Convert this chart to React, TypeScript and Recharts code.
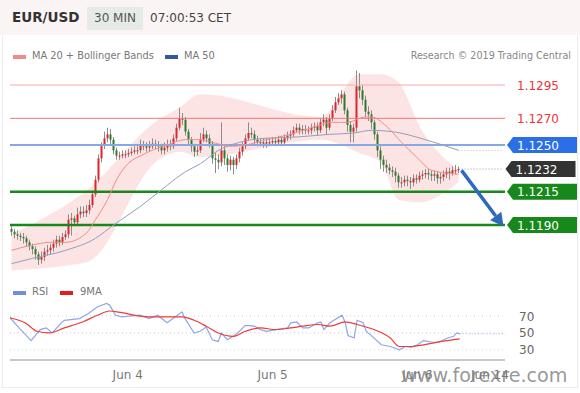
import { ComposedChart, Bar, Line, Area, XAxis, YAxis, ReferenceLine } from "recharts";

// EUR/USD 30 min candles, Jun 3 04:30 -> Jun 6 07:00
const firstOpen = 1.1187;
const closes = [
  1.1185, 1.1183, 1.1182, 1.1181, 1.118, 1.1177, 1.1174, 1.1172, 1.1168, 1.1164,
  1.1166, 1.117, 1.1171, 1.1173, 1.1176, 1.1179, 1.1177, 1.1181, 1.1183, 1.1194,
  1.1195, 1.1192, 1.1198, 1.12, 1.1199, 1.1201, 1.1205, 1.1213, 1.1224, 1.124,
  1.125, 1.1255, 1.1258, 1.1254, 1.1246, 1.1242, 1.1242, 1.1243, 1.1243, 1.1244,
  1.1245, 1.1246, 1.1246, 1.125, 1.1249, 1.1248, 1.1249, 1.1251, 1.125, 1.1249,
  1.1246, 1.1248, 1.125, 1.1249, 1.1255, 1.1263, 1.127, 1.1269, 1.126, 1.1254,
  1.1249, 1.1245, 1.1246, 1.1254, 1.1258, 1.1255, 1.1251, 1.124, 1.1239, 1.1237,
  1.1246, 1.124, 1.1235, 1.1239, 1.1235, 1.124, 1.1245, 1.1249, 1.1255, 1.1259,
  1.1258, 1.1254, 1.1252, 1.1252, 1.1251, 1.1252, 1.1252, 1.1253, 1.1252, 1.1254,
  1.1252, 1.1255, 1.1257, 1.1258, 1.1261, 1.1263, 1.1261, 1.1262, 1.1261, 1.1261,
  1.1263, 1.1264, 1.1261, 1.1267, 1.1269, 1.1263, 1.127, 1.1276, 1.1282, 1.1285,
  1.1288, 1.1276, 1.1265, 1.126, 1.1263, 1.1294, 1.1291, 1.1284, 1.1275, 1.1273,
  1.1267, 1.1258, 1.1246, 1.1239, 1.1235, 1.1233, 1.1231, 1.123, 1.1227, 1.1222,
  1.1222, 1.1224, 1.1223, 1.1222, 1.1225, 1.1224, 1.1227, 1.1228, 1.1229, 1.1228,
  1.1227, 1.1228, 1.1225, 1.1226, 1.1228, 1.123, 1.1229, 1.1231, 1.1231, 1.1232,
];
const highs = [
  1.1189, 1.1187, 1.1186, 1.1184, 1.1184, 1.1182, 1.1179, 1.1176, 1.1174, 1.117,
  1.117, 1.1173, 1.1175, 1.1176, 1.1179, 1.1182, 1.1182, 1.1184, 1.1186, 1.1198,
  1.1199, 1.1197, 1.1203, 1.1204, 1.1204, 1.1205, 1.1209, 1.1216, 1.1227, 1.1243,
  1.1252, 1.126, 1.1263, 1.1262, 1.1256, 1.1248, 1.1245, 1.1246, 1.1246, 1.1247,
  1.1248, 1.1249, 1.1249, 1.1254, 1.1253, 1.1252, 1.1253, 1.1255, 1.1254, 1.1253,
  1.1251, 1.1252, 1.1254, 1.1254, 1.1258, 1.1266, 1.1278, 1.1274, 1.1271, 1.1262,
  1.1256, 1.1251, 1.1249, 1.1259, 1.1263, 1.1261, 1.1258, 1.1253, 1.1244, 1.1243,
  1.1267, 1.1249, 1.1243, 1.1242, 1.1241, 1.1243, 1.1248, 1.1252, 1.1258, 1.1267,
  1.1263, 1.1261, 1.1257, 1.1255, 1.1255, 1.1255, 1.1255, 1.1256, 1.1256, 1.1257,
  1.1257, 1.1258, 1.126, 1.1261, 1.1264, 1.1266, 1.1266, 1.1265, 1.1265, 1.1264,
  1.1266, 1.1267, 1.1267, 1.127, 1.1273, 1.1271, 1.1273, 1.128, 1.1286, 1.1289,
  1.1291, 1.129, 1.1278, 1.1268, 1.1266, 1.1306, 1.1304, 1.1295, 1.1287, 1.1279,
  1.1276, 1.1269, 1.126, 1.1249, 1.1242, 1.1239, 1.1236, 1.1234, 1.1233, 1.1229,
  1.1226, 1.1227, 1.1227, 1.1226, 1.1228, 1.1228, 1.123, 1.1231, 1.1232, 1.1232,
  1.1231, 1.1231, 1.123, 1.1229, 1.1231, 1.1233, 1.1233, 1.1234, 1.1235, 1.1234,
];
const lows = [
  1.1182, 1.118, 1.1179, 1.1178, 1.1176, 1.1174, 1.1171, 1.1168, 1.1164, 1.116,
  1.1161, 1.1163, 1.1167, 1.1168, 1.117, 1.1173, 1.1174, 1.1175, 1.1179, 1.118,
  1.1182, 1.1189, 1.119, 1.1195, 1.1196, 1.1196, 1.1198, 1.1203, 1.1211, 1.1222,
  1.1237, 1.1247, 1.1252, 1.125, 1.1243, 1.1239, 1.1239, 1.124, 1.124, 1.1241,
  1.1242, 1.1243, 1.1243, 1.1244, 1.1246, 1.1245, 1.1245, 1.1247, 1.1247, 1.1245,
  1.1243, 1.1243, 1.1245, 1.1246, 1.1247, 1.1253, 1.1261, 1.1265, 1.1257, 1.125,
  1.1245, 1.1241, 1.1242, 1.1244, 1.1252, 1.1252, 1.1248, 1.1236, 1.1229, 1.1232,
  1.1234, 1.1235, 1.123, 1.1231, 1.1228, 1.1232, 1.1237, 1.1242, 1.1247, 1.1253,
  1.1255, 1.1251, 1.1249, 1.1249, 1.1248, 1.1248, 1.1249, 1.125, 1.1249, 1.125,
  1.1249, 1.125, 1.1253, 1.1254, 1.1256, 1.1259, 1.1258, 1.1258, 1.1258, 1.1258,
  1.1258, 1.126, 1.1257, 1.1259, 1.1264, 1.1258, 1.1261, 1.1268, 1.1274, 1.128,
  1.1281, 1.1273, 1.126, 1.1252, 1.1252, 1.126, 1.1285, 1.128, 1.1271, 1.1268,
  1.1262, 1.1254, 1.1241, 1.1232, 1.123, 1.1229, 1.1228, 1.1226, 1.1222, 1.1218,
  1.1218, 1.1219, 1.1219, 1.1217, 1.1219, 1.1221, 1.1222, 1.1224, 1.1225, 1.1224,
  1.1223, 1.1223, 1.1221, 1.1221, 1.1223, 1.1225, 1.1224, 1.1227, 1.1228, 1.1229,
];

// indicator readings [candle index, value]
const ma20Pts = [
  [0, 1.1171], [7, 1.1175], [13, 1.1177], [18, 1.1177], [25, 1.1184], [28, 1.1194],
  [32, 1.1209], [35, 1.1224], [38, 1.1234], [44, 1.1243], [52, 1.125], [58, 1.1254],
  [63, 1.1254], [67, 1.1252], [73, 1.1249], [78, 1.125], [85, 1.1254], [93, 1.1258],
  [100, 1.1263], [107, 1.1267], [112, 1.1267], [118, 1.1271], [120, 1.1271], [125, 1.1264],
  [130, 1.1252], [135, 1.1241], [140, 1.1231], [145, 1.1229], [149, 1.1228],
];
const ma50Pts = [
  [0, 1.1161], [7, 1.1165], [18, 1.1171], [28, 1.118], [34, 1.119], [43, 1.1204],
  [52, 1.122], [58, 1.123], [63, 1.1236], [69, 1.1246], [76, 1.1252], [84, 1.1255],
  [95, 1.1256], [106, 1.1258], [114, 1.1259], [120, 1.1261], [127, 1.126], [138, 1.1254],
  [149, 1.1246],
];
const bbUpPts = [
  [0, 1.1183], [7, 1.1185], [16, 1.1188], [21, 1.1198], [25, 1.1216], [28, 1.1243],
  [32, 1.1265], [36, 1.1269], [43, 1.1271], [49, 1.1269], [56, 1.1278], [63, 1.1288],
  [73, 1.1288], [79, 1.1284], [84, 1.1275], [93, 1.127], [103, 1.1271], [108, 1.1284],
  [111, 1.1299], [116, 1.1303], [123, 1.1303], [129, 1.1297], [134, 1.1289], [136, 1.1264],
  [138, 1.1241], [142, 1.1234], [149, 1.1231],
];
const bbLoPts = [
  [0, 1.1156], [10, 1.1155], [18, 1.116], [25, 1.1162], [30, 1.1168], [35, 1.1175],
  [38, 1.1186], [40, 1.1198], [44, 1.1216], [46, 1.123], [49, 1.1239], [56, 1.1245],
  [63, 1.1241], [69, 1.1231], [74, 1.1229], [80, 1.1239], [87, 1.1249], [94, 1.1252],
  [103, 1.1254], [112, 1.1252], [116, 1.1244], [123, 1.1237], [129, 1.1209], [133, 1.1199],
  [136, 1.1207], [140, 1.1216], [149, 1.1222],
];
const rsiPts = [
  [0, 68], [3, 56], [7, 41], [10, 54], [12, 56], [14, 50], [17, 62], [18, 65], [23, 67],
  [26, 73], [29, 81], [32, 85], [33, 83], [35, 71], [37, 69], [43, 71], [46, 67], [49, 71],
  [52, 62], [54, 67], [57, 75], [58, 67], [61, 50], [63, 52], [65, 57], [67, 42], [69, 40],
  [70, 50], [72, 42], [74, 46], [76, 52], [78, 59], [81, 58], [83, 54], [85, 52], [88, 54],
  [92, 56], [93, 62], [95, 63], [97, 56], [99, 56], [102, 62], [103, 63], [104, 54],
  [106, 62], [110, 71], [111, 63], [112, 47], [114, 44], [115, 65], [117, 62], [118, 52],
  [120, 46], [123, 36], [126, 34], [129, 30], [131, 34], [133, 33], [135, 36], [137, 41],
  [140, 39], [142, 39], [145, 44], [147, 46], [148, 50], [149, 49],
];
const rsiMaPts = [
  [0, 68], [5, 62], [9, 52], [13, 50], [18, 56], [24, 63], [29, 71], [33, 76], [37, 74],
  [43, 70], [49, 69], [57, 69], [61, 65], [65, 58], [69, 50], [74, 46], [78, 52], [83, 56],
  [88, 54], [93, 56], [97, 58], [102, 60], [106, 58], [111, 63], [115, 60], [118, 57],
  [122, 52], [126, 44], [129, 34], [133, 34], [137, 36], [143, 40], [149, 43],
];

const levels = [1.1295, 1.127, 1.125, 1.1232, 1.1215, 1.119];
const rsiLevels = [70, 50, 30];
const tickIdx = [39, 87, 135, 159];
const tickLabels = ["Jun 4", "Jun 5", "Jun 6", "Jun 14"];
const SLOTS = 165;

const toMap = (pts: number[][]) => new Map(pts.map(([i, v]) => [i, v]));
const m20 = toMap(ma20Pts);
const m50 = toMap(ma50Pts);
const bu = toMap(bbUpPts);
const bl = toMap(bbLoPts);
const rs = toMap(rsiPts);
const rm = toMap(rsiMaPts);

const rows = Array.from({ length: SLOTS }, (_, i) => {
  const has = i < closes.length;
  return {
    i,
    open: has ? (i === 0 ? firstOpen : closes[i - 1]) : null,
    close: has ? closes[i] : null,
    high: has ? highs[i] : null,
    low: has ? lows[i] : null,
    ma20: m20.get(i) ?? null,
    ma50: m50.get(i) ?? null,
    band: bu.has(i) ? [bl.get(i), bu.get(i)] : null,
    rsi: rs.get(i) ?? null,
    rsiMa: rm.get(i) ?? null,
  };
});

const Candle = (props: any) => {
  const { x, y, width, height, payload } = props;
  if (payload.close == null) return null;
  const { open, close, high, low } = payload;
  const top = Math.min(y, y + height);
  const h = Math.abs(height);
  const py = (v: number) => top + ((high - v) / (high - low)) * h;
  const cx = Math.floor(x + width / 2);
  const b1 = py(Math.max(open, close));
  const b2 = py(Math.min(open, close));
  const up = close >= open;
  return (
    <g>
      <line x1={cx + 0.5} x2={cx + 0.5} y1={top} y2={top + h} stroke="#8c8c8c" strokeWidth={1} />
      <rect x={cx - 0.5} y={b1} width={2} height={Math.max(1, b2 - b1)} fill={up ? "#d9262a" : "#2d7a2d"} />
    </g>
  );
};

const tagColor: Record<string, string> = {
  "1.1250": "#2a6fe6",
  "1.1232": "#333333",
  "1.1215": "#17881b",
  "1.1190": "#17881b",
};

const levelLabel = (text: string) => (p: any) => {
  const vb = p.viewBox;
  const x = vb.x + vb.width + 2;
  const y = vb.y;
  const c = tagColor[text];
  if (!c) {
    return (
      <text x={x + 10} y={y + 4.5} fill="#ef3434" fontSize={12}>
        {text}
      </text>
    );
  }
  return (
    <g>
      <path d={`M${x} ${y} L${x + 6} ${y - 8} H${x + 70} V${y + 8} H${x + 6} Z`} fill={c} />
      <text x={x + 10} y={y + 4.5} fill="#fff" fontSize={12}>
        {text}
      </text>
    </g>
  );
};

const levelStyle = (v: number) => {
  if (v === 1.1295) return { stroke: "#f7a8a8", strokeWidth: 1 };
  if (v === 1.127) return { stroke: "#f37575", strokeWidth: 1 };
  if (v === 1.125) return { stroke: "#86a9e6", strokeWidth: 2 };
  return { stroke: "#17881b", strokeWidth: 2.5 };
};

const Arrow = (p: any) => {
  const { x1, y1, x2, y2 } = p;
  const ang = Math.atan2(y2 - y1, x2 - x1);
  const L = 13;
  const W = 7;
  const bx = x2 - L * Math.cos(ang);
  const by = y2 - L * Math.sin(ang);
  const nx = -Math.sin(ang);
  const ny = Math.cos(ang);
  return (
    <g>
      <line x1={x1} y1={y1} x2={bx} y2={by} stroke="#2f69bd" strokeWidth={3.5} />
      <path d={`M${x2} ${y2} L${bx + nx * W} ${by + ny * W} L${bx - nx * W} ${by - ny * W} Z`} fill="#2f69bd" />
    </g>
  );
};

const txt: React.CSSProperties = { position: "absolute", whiteSpace: "nowrap" };

export default function App() {
  return (
    <div
      style={{
        position: "absolute",
        left: 0,
        top: 0,
        width: 580,
        height: 393,
        background: "#fff",
        overflow: "hidden",
        fontFamily: '"DejaVu Sans", sans-serif',
      }}
    >
      <div style={{ position: "absolute", left: 0, top: 0, width: 580, height: 35, background: "#fbf4f4" }} />
      <div style={{ position: "absolute", left: 2, top: 35, width: 574, height: 352, border: "1px solid #ececec", borderTop: "none" }} />

      <div style={{ position: "absolute", left: 0, top: 0 }}>
        <ComposedChart width={580} height={280} data={rows} margin={{ top: 65, right: 75, bottom: 8.33, left: 10 }} barCategoryGap={0}>
          <XAxis dataKey="i" hide />
          <YAxis hide domain={[1.1155, 1.131]} allowDataOverflow width={0} />
          <Area
            dataKey="band"
            connectNulls
            type="monotone"
            stroke="none"
            fill="#fbcaca"
            fillOpacity={0.5}
            isAnimationActive={false}
          />
          {levels.map((v) => {
            const t = v.toFixed(4);
            if (v === 1.1232) {
              return (
                <ReferenceLine
                  key={t}
                  segment={[{ x: 149, y: v }, { x: 164, y: v }]}
                  stroke="#9a9a9a"
                  strokeDasharray="1 2"
                  label={levelLabel(t)}
                />
              );
            }
            return <ReferenceLine key={t} y={v} {...levelStyle(v)} label={levelLabel(t)} />;
          })}
          <ReferenceLine segment={[{ x: 149, y: 1.1246 }, { x: 164, y: 1.1246 }]} stroke="#b0bccf" strokeDasharray="1 2" />
          <Line dataKey="ma50" connectNulls type="monotone" stroke="#8f9fbc" strokeWidth={1} dot={false} isAnimationActive={false} />
          <Line dataKey="ma20" connectNulls type="monotone" stroke="#f28a8a" strokeWidth={1} dot={false} isAnimationActive={false} />
          <Bar
            dataKey={(d: any) => (d.close == null ? null : [d.low, d.high])}
            shape={<Candle />}
            isAnimationActive={false}
          />
          <ReferenceLine segment={[{ x: 150, y: 1.1231 }, { x: 164, y: 1.1189 }]} shape={<Arrow />} />
        </ComposedChart>
      </div>

      <div style={{ position: "absolute", left: 0, top: 290 }}>
        <ComposedChart width={580} height={100} data={rows} margin={{ top: 10, right: 75, bottom: 0, left: 10 }}>
          <XAxis
            dataKey="i"
            height={30}
            ticks={tickIdx}
            interval={0}
            tickFormatter={(v) => tickLabels[tickIdx.indexOf(v)] ?? ""}
            tickLine={false}
            axisLine={{ stroke: "#b4b4b4", strokeWidth: 1.5 }}
            tick={{ fill: "#777", fontSize: 12 }}
            tickMargin={4}
          />
          <YAxis hide domain={[18, 89]} allowDataOverflow width={0} />
          {rsiLevels.map((v) => (
            <ReferenceLine
              key={v}
              y={v}
              stroke={v === 50 ? "#c8ccd4" : "#c5d8c5"}
              strokeDasharray="1 3"
              label={(p: any) => (
                <text x={p.viewBox.x + p.viewBox.width + 14} y={p.viewBox.y + 4.5} fill="#666" fontSize={12}>
                  {v}
                </text>
              )}
            />
          ))}
          <ReferenceLine segment={[{ x: 149, y: 49 }, { x: 164, y: 49 }]} stroke="#9fb2de" strokeDasharray="1 2" />
          <Line dataKey="rsi" connectNulls type="linear" stroke="#8da7e6" strokeWidth={1.2} dot={false} isAnimationActive={false} />
          <Line dataKey="rsiMa" connectNulls type="monotone" stroke="#ee3b3b" strokeWidth={1.2} dot={false} isAnimationActive={false} />
        </ComposedChart>
      </div>

      <div style={{ ...txt, left: 12, top: 9, fontSize: 13.5, fontWeight: "bold", color: "#333" }}>EUR/USD</div>
      <div style={{ ...txt, left: 87, top: 7, width: 56, height: 23, background: "#e7ebe8" }} />
      <div style={{ ...txt, left: 94, top: 10.5, fontSize: 12, color: "#555" }}>30 MIN</div>
      <div style={{ ...txt, left: 150, top: 10.5, fontSize: 12, color: "#444" }}>07:00:53 CET</div>

      <div style={{ ...txt, left: 13, top: 55, width: 13, height: 4, background: "#f28a8a" }} />
      <div style={{ ...txt, left: 32, top: 50, fontSize: 9.8, color: "#777" }}>MA 20 + Bollinger Bands</div>
      <div style={{ ...txt, left: 165, top: 55, width: 13, height: 4, background: "#2f5aa0" }} />
      <div style={{ ...txt, left: 184, top: 50, fontSize: 9.8, color: "#777" }}>MA 50</div>
      <div style={{ ...txt, right: 9, top: 50, fontSize: 9.6, color: "#888" }}>Research © 2019 Trading Central</div>

      <div style={{ ...txt, left: 13, top: 291, width: 13, height: 4, background: "#6f8fe0" }} />
      <div style={{ ...txt, left: 32, top: 286, fontSize: 10, color: "#777" }}>RSI</div>
      <div style={{ ...txt, left: 60, top: 291, width: 13, height: 4, background: "#e51c1c" }} />
      <div style={{ ...txt, left: 80, top: 286, fontSize: 10, color: "#777" }}>9MA</div>

      <div style={{ ...txt, left: 401, top: 364, fontSize: 19.2, color: "rgba(125,125,125,0.8)" }}>www.forexre.com</div>
    </div>
  );
}
